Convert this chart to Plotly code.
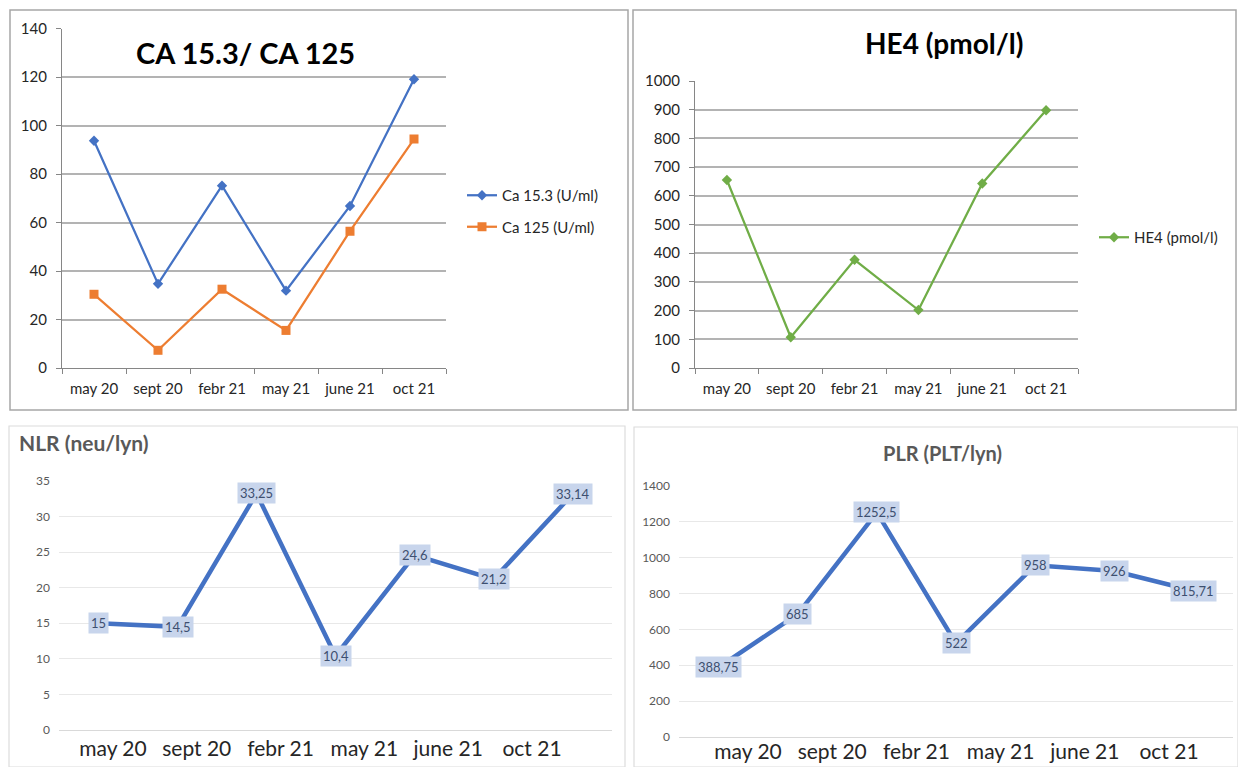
import plotly.graph_objects as go

months = ["may 20", "sept 20", "febr 21", "may 21", "june 21", "oct 21"]
ca153 = [93.7, 34.7, 75.2, 31.9, 66.8, 119.1]
ca125 = [30.4, 7.3, 32.5, 15.5, 56.4, 94.4]
he4 = [655, 107, 377, 202, 643, 898]
nlr = [15, 14.5, 33.25, 10.4, 24.6, 21.2, 33.14]
plr = [388.75, 685, 1252.5, 522, 958, 926, 815.71]

W, H = 1238, 767
FONT = "Lato"
BLUE = "#4472C4"
ORANGE = "#ED7D31"
GREEN = "#70AD47"


def px(x):
    return x / W


def py(y):
    return 1 - y / H


def fmt(v):
    return ("%g" % v).replace(".", ",")


fig = go.Figure()
fig.add_trace(go.Scatter(x=months, y=ca153, name="Ca 15.3 (U/ml)", mode="lines+markers",
                         line=dict(color=BLUE, width=2.25), marker=dict(symbol="diamond", size=8, color=BLUE),
                         xaxis="x", yaxis="y", legend="legend", legendgroup="a"))
fig.add_trace(go.Scatter(x=months, y=ca125, name="Ca 125 (U/ml)", mode="lines+markers",
                         line=dict(color=ORANGE, width=2.25), marker=dict(symbol="square", size=9, color=ORANGE),
                         xaxis="x", yaxis="y", legend="legend", legendgroup="b"))
fig.add_trace(go.Scatter(x=months, y=he4, name="HE4 (pmol/l)", mode="lines+markers",
                         line=dict(color=GREEN, width=2.25), marker=dict(symbol="diamond", size=8, color=GREEN),
                         xaxis="x2", yaxis="y2", legend="legend2"))
fig.add_trace(go.Scatter(x=list(range(len(nlr))), y=nlr, mode="lines", showlegend=False,
                         line=dict(color=BLUE, width=4.5), xaxis="x3", yaxis="y3"))
fig.add_trace(go.Scatter(x=list(range(len(plr))), y=plr, mode="lines", showlegend=False,
                         line=dict(color=BLUE, width=4.5), xaxis="x4", yaxis="y4"))
# carriers for the month label axes of the bottom charts
fig.add_trace(go.Scatter(x=list(range(len(months))), y=[None] * len(months), showlegend=False,
                         hoverinfo="skip", xaxis="x5", yaxis="y3"))
fig.add_trace(go.Scatter(x=list(range(len(months))), y=[None] * len(months), showlegend=False,
                         hoverinfo="skip", xaxis="x6", yaxis="y4"))

annotations = []
for i, v in enumerate(nlr):
    annotations.append(dict(x=i, y=v, xref="x3", yref="y3", text=fmt(v), showarrow=False,
                            bgcolor="#c8d5ec", borderpad=2, font=dict(family=FONT, size=13, color="#3d4f70")))
for i, v in enumerate(plr):
    annotations.append(dict(x=i, y=v, xref="x4", yref="y4", text=fmt(v), showarrow=False,
                            bgcolor="#c8d5ec", borderpad=2, font=dict(family=FONT, size=13, color="#3d4f70")))

annotations += [
    dict(x=px(245), y=py(52), xref="paper", yref="paper", text="<b>CA 15.3/ CA 125</b>", showarrow=False,
         xanchor="center", yanchor="middle", font=dict(family=FONT, size=29, color="black")),
    dict(x=px(944), y=py(43), xref="paper", yref="paper", text="<b>HE4 (pmol/l)</b>", showarrow=False,
         xanchor="center", yanchor="middle", font=dict(family=FONT, size=28, color="black")),
    dict(x=px(17), y=py(442), xref="paper", yref="paper", text="<b>NLR (neu/lyn)</b>", showarrow=False,
         xanchor="left", yanchor="middle", font=dict(family=FONT, size=21, color="#595959")),
    dict(x=px(942), y=py(453), xref="paper", yref="paper", text="<b>PLR (PLT/lyn)</b>", showarrow=False,
         xanchor="center", yanchor="middle", font=dict(family=FONT, size=20, color="#595959")),
]

shapes = [
    dict(type="rect", xref="paper", yref="paper", x0=px(10), x1=px(628), y0=py(410), y1=py(10),
         line=dict(color="#a6a6a6", width=1.5)),
    dict(type="rect", xref="paper", yref="paper", x0=px(633), x1=px(1236), y0=py(410), y1=py(10),
         line=dict(color="#a6a6a6", width=1.5)),
    dict(type="rect", xref="paper", yref="paper", x0=px(9), x1=px(625), y0=py(767), y1=py(426),
         line=dict(color="#dcdcdc", width=1.2)),
    dict(type="rect", xref="paper", yref="paper", x0=px(634), x1=px(1238), y0=py(767), y1=py(427),
         line=dict(color="#dcdcdc", width=1.2)),
]

top_tickfont = dict(family=FONT, size=15, color="#262626")
top_x = dict(type="category", tickson="boundaries", showline=True, linecolor="#868686", linewidth=1.3,
             ticks="outside", ticklen=5, tickcolor="#868686", showgrid=False, tickfont=top_tickfont,
             range=[-0.5, 5.5], automargin=False, ticklabelstandoff=7)
top_y = dict(showline=True, linecolor="#868686", linewidth=1.3, ticks="outside", ticklen=5,
             tickcolor="#868686", gridcolor="#b3b3b3", gridwidth=1.5, zeroline=False, tickfont=top_tickfont,
             automargin=False, ticklabelstandoff=6)

bot_y = dict(showline=False, ticks="", gridcolor="#e8e8e8", gridwidth=1, zeroline=False,
             tickfont=dict(family=FONT, size=12, color="#595959"), ticklabelstandoff=8, automargin=False)
bot_x = dict(showline=True, linecolor="#d9d9d9", showgrid=False, showticklabels=False, ticks="",
             range=[-0.5, 6.5], zeroline=False, automargin=False)
lab_x = dict(showline=False, showgrid=False, zeroline=False, ticks="", tickmode="array",
             tickvals=list(range(len(months))), ticktext=months, automargin=False,
             tickfont=dict(family=FONT, size=21, color="#262626"))

fig.update_layout(
    width=W, height=H, autosize=False, margin=dict(l=0, r=0, t=0, b=0, autoexpand=False),
    paper_bgcolor="white", plot_bgcolor="white",
    xaxis=dict(top_x, domain=[px(62), px(446)], anchor="y"),
    yaxis=dict(top_y, domain=[py(368), py(28.5)], anchor="x", range=[0, 140], dtick=20),
    xaxis2=dict(top_x, domain=[px(695), px(1078)], anchor="y2"),
    yaxis2=dict(top_y, domain=[py(368), py(81)], anchor="x2", range=[0, 1000], dtick=100),
    xaxis3=dict(bot_x, domain=[px(59), px(612)], anchor="y3"),
    yaxis3=dict(bot_y, domain=[py(730), py(481)], anchor="x3", range=[0, 35], dtick=5),
    xaxis4=dict(bot_x, domain=[px(679), px(1233)], anchor="y4"),
    yaxis4=dict(bot_y, domain=[py(737), py(486)], anchor="x4", range=[0, 1400], dtick=200),
    xaxis5=dict(lab_x, overlaying="x3", anchor="y3", side="bottom", range=[-0.644, 5.955],
                ticklabelstandoff=4),
    xaxis6=dict(lab_x, overlaying="x4", anchor="y4", side="bottom", range=[-0.82, 5.76],
                ticklabelstandoff=0),
    legend=dict(x=px(462), y=py(179), xanchor="left", yanchor="top", bgcolor="rgba(0,0,0,0)",
                font=dict(family=FONT, size=15, color="#262626"), tracegroupgap=9),
    legend2=dict(x=px(1094), y=py(221), xanchor="left", yanchor="top", bgcolor="rgba(0,0,0,0)",
                 font=dict(family=FONT, size=15, color="#262626")),
    annotations=annotations, shapes=shapes, hovermode=False,
)

fig.write_html("out.html", config={"displayModeBar": False},
               post_script="document.body.style.margin='0px';document.documentElement.style.margin='0px';")
